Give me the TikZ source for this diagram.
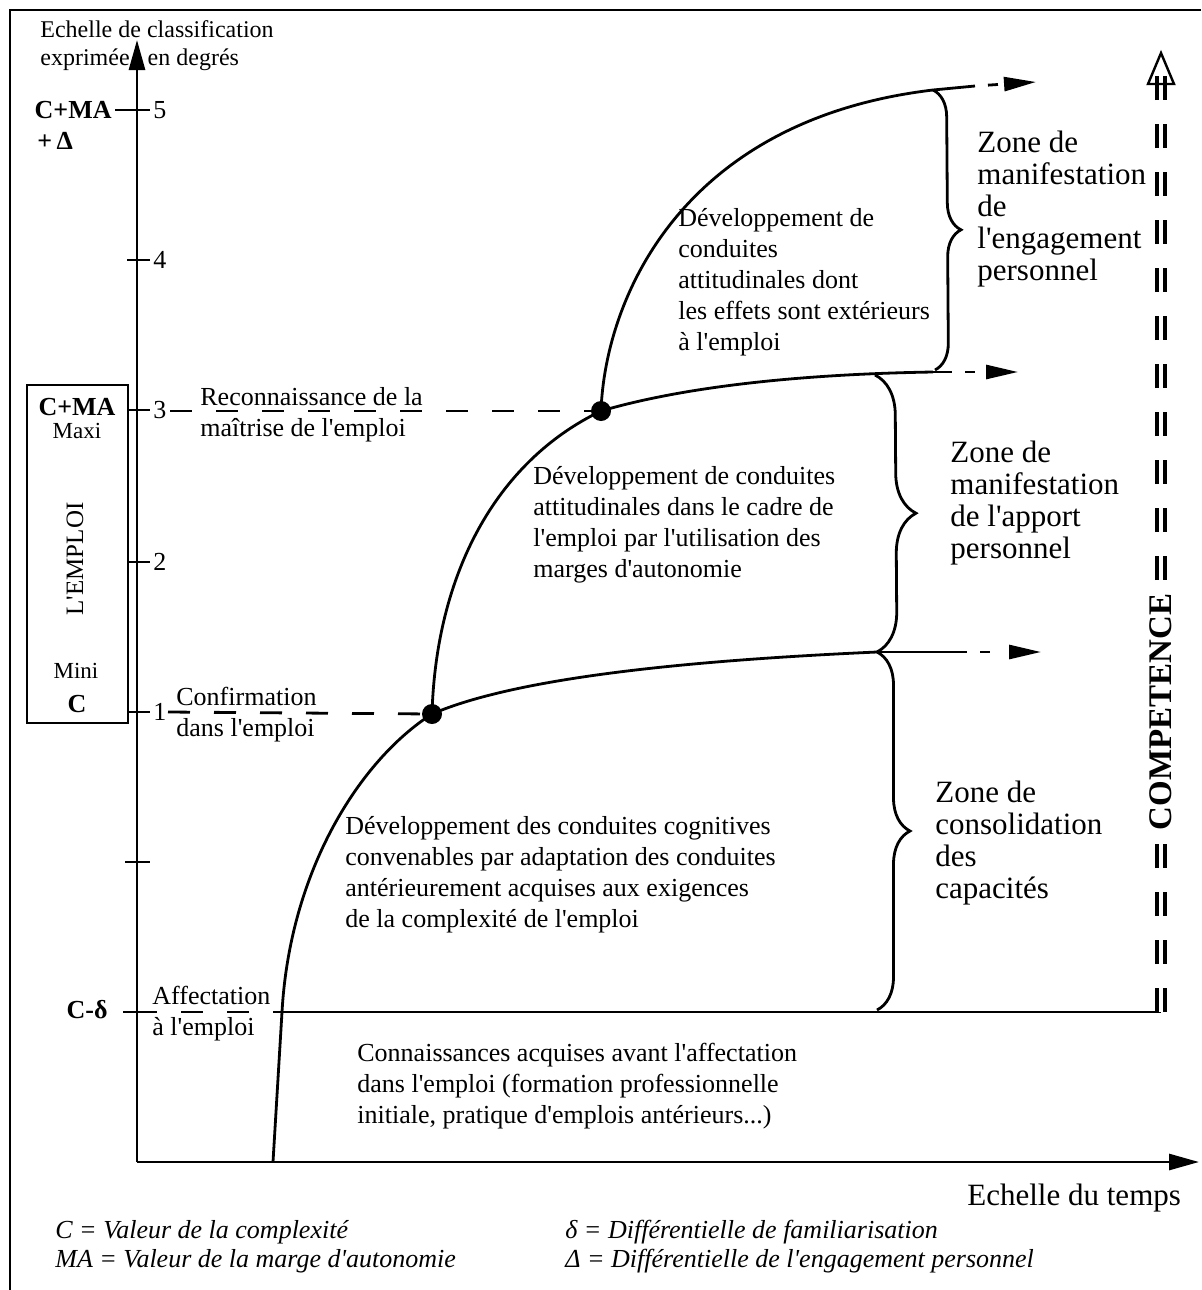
\documentclass[tikz,border=0pt]{standalone}
\usepackage{fontspec}
\setmainfont{Liberation Serif}
\usetikzlibrary{arrows.meta,decorations.pathreplacing}

% apostrophe droite
\newcommand{\apos}{\textquotesingle}

\begin{document}
\begin{tikzpicture}[x=0.5pt, y=-0.5pt,
    trait/.style={line width=1.4pt},
    pointille/.style={line width=1.4pt, dash pattern=on 11pt off 12pt},
    suite/.style={line width=1.4pt, dash pattern=on 0pt off 6.5pt on 5pt off 40pt,
        -{Triangle[length=16pt,width=7pt]}},
    accolade/.style={line width=1.4pt, decorate, decoration={brace, amplitude=#1}},
    competence/.style={line width=2pt, double=white, double distance=1.6pt,
        dash pattern=on 12pt off 12pt},
    texte/.style={font=\fontsize{13}{15.5}\selectfont, align=left, anchor=north west, inner sep=0pt},
    zone/.style={font=\fontsize{15.5}{16}\selectfont, align=left, anchor=north west, inner sep=0pt},
    legende/.style={font=\fontsize{13}{15}\selectfont\itshape, anchor=west, inner sep=0pt},
    jalon/.style={circle, fill, inner sep=0pt, minimum size=10pt}]

    \useasboundingbox (0,0) rectangle (1201,1290);

    % Cadre
    \draw[line width=1pt] (1201,10) -- (10,10) -- (10,1290);

    % Axes
    \coordinate (O) at (137,1162);
    \draw[trait, -{Triangle[length=15pt,width=8pt]}] (O) -- (137,40);
    \draw[trait, -{Triangle[length=15pt,width=8pt]}] (O) -- (1199,1162);
    \node[anchor=north west, align=left, inner sep=0pt, font=\fontsize{12}{14}\selectfont]
        (titre) at (40,20) {Echelle de classification\\exprimée\hspace{9pt}en degrés};
    \node[anchor=west, inner sep=0pt, font=\fontsize{15.5}{18}\selectfont]
        (temps) at (967,1198) {Echelle du temps};

    % Graduations
    \foreach \y/\lab in {110/5, 260/4, 410/3, 562/2, 712/1} {
        \draw[trait] (127,\y) -- (150,\y)
            node[anchor=west, inner sep=1pt, font=\fontsize{13}{15}\selectfont] (grad\lab) {\lab};
    }
    \draw[trait] (115,110) -- (127,110);
    \draw[trait] (125,862) -- (150,862);
    \draw[trait] (123,1012) -- (157,1012);
    \node[anchor=east, inner sep=1pt, font=\bfseries\fontsize{13}{15}\selectfont] (cma) at (114,110) {C+MA};
    \node[anchor=west, inner sep=0pt, font=\bfseries\fontsize{13}{15}\selectfont] (plusdelta) at (37,141) {+\,Δ};
    \node[anchor=east, inner sep=1pt, font=\bfseries\fontsize{13}{15}\selectfont] (cdelta) at (110,1010) {C-δ};

    % L'emploi
    \node[trait, draw, minimum width=50.5pt, minimum height=169pt, inner sep=0pt] (emploi) at (77.5,554) {};
    \node[font=\bfseries\fontsize{13}{15}\selectfont, inner sep=0pt] (cmamaxi) at (77,407) {C+MA};
    \node[font=\fontsize{11.5}{13}\selectfont, inner sep=0pt] (maxi) at (77,431) {Maxi};
    \node[rotate=90, font=\fontsize{12.5}{14}\selectfont, inner sep=0pt] (lemploi) at (75,559) {L\apos EMPLOI};
    \node[font=\fontsize{11.5}{13}\selectfont, inner sep=0pt] (mini) at (76,671) {Mini};
    \node[font=\bfseries\fontsize{13}{15}\selectfont, inner sep=0pt] (cmini) at (77,704) {C};

    % Courbes
    \coordinate (c1) at (432,714);
    \coordinate (c2) at (601,411);
    \coordinate (b1) at (877,652);
    \coordinate (b2) at (933,372);
    \coordinate (b3) at (933,90);
    \draw[trait] (273,1162) -- (282,1012) .. controls (290,870) and (360,760) .. (c1)
        .. controls (520,676) and (700,660) .. (b1);
    \draw[trait] (c1) .. controls (436,575) and (495,462) .. (c2)
        .. controls (690,385) and (810,374) .. (b2);
    \draw[trait] (c2) .. controls (605,300) and (680,120) .. (b3);
    \draw[trait] (282,1012) -- (1161,1012);

    \node[jalon] (jalon1) at (c1) {};
    \node[jalon] (jalon2) at (c2) {};
    \draw[pointille] (168,712) -- (jalon1);
    \draw[pointille] (170,411) -- (jalon2);
    \draw[pointille, dash phase=11pt] (157,1012) -- (282,1012);

    % Prolongements
    \draw[trait] (b1) -- (967,652);
    \draw[suite] (967,652) -- (1041,652);
    \draw[trait] (b2) -- (952,372);
    \draw[suite] (952,372) -- (1018,372);
    \draw[trait] (b3) -- (975,86);
    \draw[suite] (975,86) -- (1036,82);

    % Accolades
    \draw[accolade=16.5pt] (b1) -- (877,1010);
    \draw[accolade=20pt] (875,375) -- (b1);
    \draw[accolade=13.5pt] (b3) -- (935,370);

    % Textes des zones
    \node[texte] (engagement) at (678,208) {Développement de\\conduites\\attitudinales dont\\les effets sont extérieurs\\à l\apos emploi};
    \node[texte] (apport) at (533,466) {Développement de conduites\\attitudinales dans le cadre de\\l\apos emploi par l\apos utilisation des\\marges d\apos autonomie};
    \node[texte] (cognitives) at (345,816) {Développement des conduites cognitives\\convenables par adaptation des conduites\\antérieurement acquises aux exigences\\de la complexité de l\apos emploi};
    \node[texte] (acquis) at (357,1043) {Connaissances acquises avant l\apos affectation\\dans l\apos emploi (formation professionnelle\\initiale, pratique d\apos emplois antérieurs...)};

    \node[zone] (zengagement) at (977,131) {Zone de\\manifestation\\de\\l\apos engagement\\personnel};
    \node[zone] (zapport) at (950,441) {Zone de\\manifestation\\de l\apos apport\\personnel};
    \node[zone] (zconsolidation) at (935,781) {Zone de\\consolidation\\des\\capacités};

    \node[texte] (reconnaissance) at (200,387) {Reconnaissance de la\\maîtrise de l\apos emploi};
    \node[texte] (confirmation) at (176,687) {Confirmation\\dans l\apos emploi};
    \node[texte] (affectation) at (152,986) {Affectation\\à l\apos emploi};

    % Competence
    \draw[competence] (1161,1012) -- (1161,72);
    \draw[trait, line width=1.2pt] (1148,84) -- (1161,53) -- (1174,84) -- cycle;
    \node[rotate=90, fill=white, inner sep=5pt, font=\bfseries\fontsize{16.5}{18}\selectfont]
        (comp) at (1161,712) {COMPETENCE};

    % Legende
    \node[legende] (lc) at (55,1232) {C = Valeur de la complexité};
    \node[legende] (lma) at (55,1261) {MA = Valeur de la marge d\apos autonomie};
    \node[legende] (ldelta) at (565,1232) {δ = Différentielle de familiarisation};
    \node[legende] (lDelta) at (565,1261) {Δ = Différentielle de l\apos engagement personnel};
\end{tikzpicture}
\end{document}
